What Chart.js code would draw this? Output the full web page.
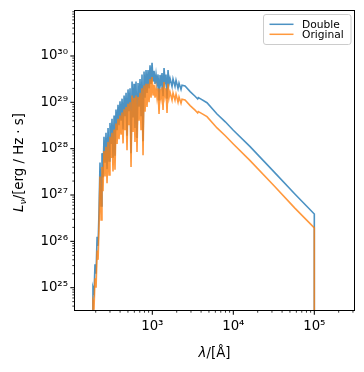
<!DOCTYPE html>
<html><head><meta charset="utf-8">
<script src="https://cdn.jsdelivr.net/npm/chart.js@4.4.0/dist/chart.umd.min.js"></script>
<style>html,body{margin:0;padding:0;background:#fff;}canvas{display:block;}</style>
</head><body>
<canvas id="c" width="364" height="372"></canvas>
<script>
// ---- data ----
const wavelength = [
  183, 185, 191, 196, 202, 208, 214, 220, 226, 233,
  239, 246, 253, 261, 268, 276, 284, 292, 300, 309,
  318, 327, 337, 346, 356, 367, 377, 388, 399, 411,
  423, 435, 448, 460, 474, 487, 501, 516, 531, 546,
  562, 578, 594, 611, 629, 647, 666, 685, 705, 725,
  746, 768, 790, 813, 836, 860, 885, 911, 937, 964,
  992, 1021, 1050, 1080, 1111, 1143, 1176, 1210, 1245, 1281,
  1318, 1356, 1395, 1435, 1476, 1519, 1563, 1608, 1654, 1751,
  1801, 1905, 1962, 2076, 2136, 2260, 2326, 2535, 2930, 3370,
  3630, 3700, 3900, 4730, 6290, 7960, 10000, 16000, 31600, 57500,
  100000, 100000
];
const lumOriginal = [
  1e22, 5.0e24, 4.0e24, 1.6e25, 1.0e25, 6.3e25, 4.0e25, 2.5e26, 2.5e27, 2.9e26,
  4.0e27, 1.2e27, 8.9e27, 2.5e27, 1.1e28, 1.8e27, 1.4e28, 2.7e27, 1.8e28, 6.3e27,
  2.2e28, 3.2e27, 2.6e28, 3.5e27, 3.5e28, 1.26e28, 4.4e28, 1.6e28, 5.2e28, 2.0e28,
  6.0e28, 1.3e28, 7.1e28, 2.5e28, 7.9e28, 9.3e27, 9.3e28, 3.2e28, 1.0e29, 4.0e27,
  1.4e29, 2.3e28, 1.26e29, 1.4e28, 1.4e29, 8.5e27, 1.3e29, 4.0e28, 1.6e29, 2.5e28,
  2.0e29, 7.2e27, 2.3e29, 6.3e28, 2.5e29, 7.9e28, 2.5e29, 1.0e29, 3.2e29, 1.26e29,
  3.5e29, 1.4e29, 2.4e29, 1.26e29, 2.0e29, 1.26e29, 2.0e29, 5.6e28, 1.95e29, 1.26e29,
  2.1e29, 6.8e28, 2.75e29, 1.4e29, 2.0e29, 5.9e28, 2.5e29, 1.26e29, 1.66e29, 1.12e29,
  1.6e29, 1.12e29, 1.5e29, 1.0e29, 1.3e29, 9.5e28, 1.17e29, 1.12e29, 8.5e28, 6.8e28,
  5.9e28, 6.3e28, 6.0e28, 4.9e28, 2.8e28, 1.9e28, 1.26e28, 5.6e27, 1.6e27, 5.2e26,
  1.95e26, 1e20
];
const lumDouble = [
  2e22, 1.0e25, 8.0e24, 3.2e25, 2.0e25, 1.26e26, 8.0e25, 5.0e26, 5.0e27, 5.8e26,
  8.0e27, 2.4e27, 1.8e28, 5.0e27, 2.2e28, 3.6e27, 2.8e28, 5.4e27, 3.6e28, 1.26e28,
  4.4e28, 6.4e27, 5.2e28, 7.0e27, 7.0e28, 2.5e28, 8.8e28, 3.2e28, 1.05e29, 4.0e28,
  1.2e29, 2.6e28, 1.4e29, 5.0e28, 1.6e29, 1.9e28, 1.9e29, 6.4e28, 2.0e29, 8.0e27,
  2.8e29, 4.7e28, 2.5e29, 2.8e28, 2.8e29, 1.7e28, 2.6e29, 8.0e28, 3.2e29, 5.0e28,
  4.0e29, 1.45e28, 4.6e29, 1.26e29, 5.0e29, 1.6e29, 5.0e29, 2.0e29, 6.3e29, 2.5e29,
  7.1e29, 2.8e29, 4.8e29, 2.5e29, 4.0e29, 2.5e29, 4.0e29, 1.1e29, 3.9e29, 2.5e29,
  4.3e29, 1.35e29, 5.5e29, 2.8e29, 4.0e29, 1.2e29, 5.0e29, 2.5e29, 3.3e29, 2.2e29,
  3.2e29, 2.2e29, 3.0e29, 2.0e29, 2.6e29, 1.9e29, 2.35e29, 2.25e29, 1.7e29, 1.35e29,
  1.18e29, 1.26e29, 1.2e29, 9.8e28, 5.6e28, 3.8e28, 2.5e28, 1.12e28, 3.2e27, 1.05e27,
  3.9e26, 1e20
];
const seriesLabels = ['Double', 'Original'];
const xDecades = [1e2, 1e3, 1e4, 1e5];
const yDecades = [1e24, 1e25, 1e26, 1e27, 1e28, 1e29, 1e30];
const minorMultipliers = [2, 3, 4, 5, 6, 7, 8, 9];
const xRange = [111, 309000];
const yRange = [3.3e24, 9.35e30];
const xTitle = ['λ', '/[Å]'];
const yTitle = ['L', 'ν', '/[erg / Hz · s]'];

// ---- helpers ----
const SUP = ['⁰','¹','²','³','⁴','⁵','⁶','⁷','⁸','⁹'];
function powLabel(v) {
  const e = Math.round(Math.log10(v));
  return '10' + String(e).split('').map(d => SUP[+d]).join('');
}
function buildTicks(decades, range) {
  const out = [];
  decades.forEach(d => {
    [1].concat(minorMultipliers).forEach(m => {
      const v = d * m;
      if (v >= range[0] && v <= range[1]) out.push({ value: v, major: m === 1 });
    });
  });
  return out;
}
const BLUE = 'rgba(31,119,180,0.8)';
const ORANGE = 'rgba(255,127,14,0.8)';
const FONT = '"DejaVu Sans", "Liberation Sans", sans-serif';

const decor = {
  id: 'decor',
  afterDraw(chart) {
    const ctx = chart.ctx, a = chart.chartArea;
    const xs = chart.scales.x, ys = chart.scales.y;
    ctx.save();
    ctx.strokeStyle = '#000';
    // tick marks (outward, matplotlib style)
    xs.ticks.forEach(t => {
      const p = xs.getPixelForValue(t.value);
      if (p < a.left - 0.5 || p > a.right + 0.5) return;
      ctx.lineWidth = t.major ? 1.05 : 0.8;
      ctx.beginPath();
      ctx.moveTo(p, a.bottom);
      ctx.lineTo(p, a.bottom + (t.major ? 4.7 : 2.7));
      ctx.stroke();
    });
    ys.ticks.forEach(t => {
      const p = ys.getPixelForValue(t.value);
      if (p < a.top - 0.5 || p > a.bottom + 0.5) return;
      ctx.lineWidth = t.major ? 1.05 : 0.8;
      ctx.beginPath();
      ctx.moveTo(a.left, p);
      ctx.lineTo(a.left - (t.major ? 4.7 : 2.7), p);
      ctx.stroke();
    });
    // frame
    ctx.lineWidth = 1;
    ctx.strokeRect(Math.round(a.left) - 0.5, Math.round(a.top) - 0.5,
      Math.round(a.right - a.left) + 1, Math.round(a.bottom - a.top) + 1);

    // axis titles
    ctx.fillStyle = '#000';
    ctx.textBaseline = 'alphabetic';
    const fIt = 'italic 13.3px ' + FONT, fN = '13.3px ' + FONT;
    ctx.font = fIt; const w1 = ctx.measureText(xTitle[0]).width;
    ctx.font = fN; const w2 = ctx.measureText(xTitle[1]).width;
    let x0 = (a.left + a.right) / 2 - (w1 + w2) / 2;
    ctx.font = fIt; ctx.fillText(xTitle[0], x0, 357);
    ctx.font = fN; ctx.fillText(xTitle[1], x0 + w1, 357);
    // y title (rotated)
    ctx.save();
    ctx.translate(23, (a.top + a.bottom) / 2 + 2);
    ctx.rotate(-Math.PI / 2);
    const fSub = 'italic 9.3px ' + FONT;
    ctx.font = fIt; const u1 = ctx.measureText(yTitle[0]).width;
    ctx.font = fSub; const u2 = ctx.measureText(yTitle[1]).width;
    ctx.font = fN; const u3 = ctx.measureText(yTitle[2]).width;
    let s = -(u1 + u2 + u3) / 2;
    ctx.font = fIt; ctx.fillText(yTitle[0], s, 0);
    ctx.font = fSub; ctx.fillText(yTitle[1], s + u1, 2.6);
    ctx.font = fN; ctx.fillText(yTitle[2], s + u1 + u2, 0);
    ctx.restore();

    // legend (top-right box)
    const bx = 263.5, by = 14.5, bw = 87.5, bh = 30;
    ctx.fillStyle = 'rgba(255,255,255,0.8)';
    ctx.strokeStyle = '#cccccc';
    ctx.lineWidth = 1;
    ctx.beginPath();
    ctx.roundRect(bx, by, bw, bh, 2.5);
    ctx.fill(); ctx.stroke();
    const rows = [24.3, 34.3];
    chart.data.datasets.forEach((ds, i) => {
      ctx.strokeStyle = ds.borderColor;
      ctx.lineWidth = 1.5;
      ctx.beginPath();
      ctx.moveTo(269.5, rows[i]);
      ctx.lineTo(293.5, rows[i]);
      ctx.stroke();
      ctx.fillStyle = '#000';
      ctx.font = '10.7px ' + FONT;
      ctx.fillText(ds.label, 302, rows[i] + 3.9);
    });
    ctx.restore();
  }
};

const mkPts = arr => wavelength.map((w, i) => ({ x: w, y: arr[i] }));

new Chart(document.getElementById('c'), {
  type: 'line',
  data: {
    datasets: [
      { label: seriesLabels[0], data: mkPts(lumDouble), borderColor: BLUE, order: 1 },
      { label: seriesLabels[1], data: mkPts(lumOriginal), borderColor: ORANGE, order: 0 }
    ]
  },
  options: {
    responsive: false,
    devicePixelRatio: 1,
    animation: false,
    events: [],
    layout: { padding: { top: 11, right: 10, left: 0, bottom: 0 } },
    elements: {
      line: { borderWidth: 1.6, tension: 0, fill: false, borderCapStyle: 'butt', borderJoinStyle: 'miter' },
      point: { radius: 0 }
    },
    plugins: { legend: { display: false }, tooltip: { enabled: false } },
    scales: {
      x: {
        type: 'logarithmic',
        min: xRange[0], max: xRange[1],
        afterBuildTicks: sc => { sc.ticks = buildTicks(xDecades, xRange); },
        afterFit: sc => { sc.height = 62; },
        grid: { display: true, drawOnChartArea: false, drawTicks: true, tickLength: 5, tickColor: 'rgba(0,0,0,0)' },
        border: { display: false },
        ticks: {
          autoSkip: false, maxRotation: 0, padding: 4,
          color: '#000', font: { family: FONT, size: 13.3 },
          callback: (v, i, t) => (t[i].major ? powLabel(v) : '')
        }
      },
      y: {
        type: 'logarithmic',
        min: yRange[0], max: yRange[1],
        afterBuildTicks: sc => { sc.ticks = buildTicks(yDecades, yRange); },
        afterFit: sc => { sc.width = 75; },
        grid: { display: true, drawOnChartArea: false, drawTicks: true, tickLength: 5, tickColor: 'rgba(0,0,0,0)' },
        border: { display: false },
        ticks: {
          autoSkip: false, padding: 2,
          color: '#000', font: { family: FONT, size: 13.3 },
          callback: (v, i, t) => (t[i].major ? powLabel(v) : '')
        }
      }
    }
  },
  plugins: [decor]
});
</script>
</body></html>
